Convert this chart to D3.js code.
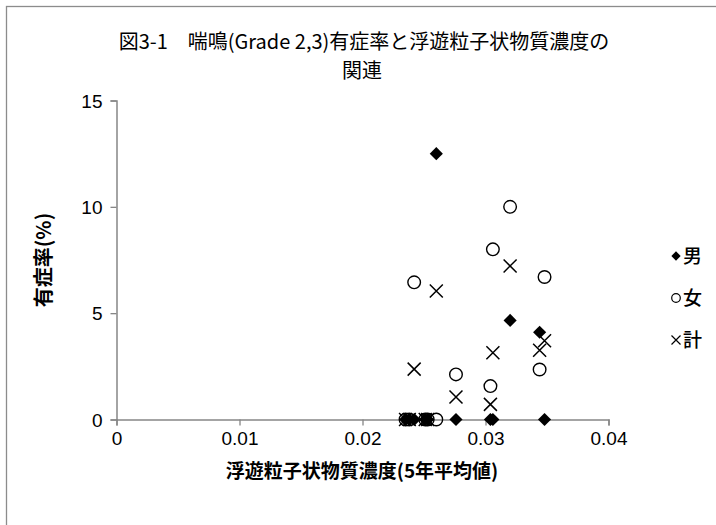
<!DOCTYPE html>
<html>
<head>
<meta charset="utf-8">
<script src="https://cdn.jsdelivr.net/npm/d3@7"></script>
<style>
  html, body { margin: 0; padding: 0; background: #fff; }
  svg { display: block; }
  text { font-family: "Liberation Sans", "Noto Sans CJK JP", sans-serif; }
  .cjk { font-family: "Noto Sans CJK JP", sans-serif; }
</style>
</head>
<body>
<div id="chart"></div>
<script>
// 5-year mean suspended particulate matter concentration at each survey site
const concentration = [0.0235, 0.0238, 0.0242, 0.0251, 0.0253, 0.0260, 0.0276, 0.0304, 0.0306, 0.0320, 0.0344, 0.0348];
// wheeze (Grade 2,3) prevalence, %
const male   = [0, 0, 0,    0, 0, 12.5, 0,    0,    0,    4.66, 4.10, 0];
const female = [0, 0, 6.45, 0, 0, 0,    2.12, 1.57, 8.00, 10.0, 2.35, 6.70];
const total  = [0, 0, 2.37, 0, 0, 6.04, 1.06, 0.71, 3.14, 7.22, 3.26, 3.70];

const seriesNames = ["男", "女", "計"];
const xTicks = [0, 0.01, 0.02, 0.03, 0.04];
const yTicks = [0, 5, 10, 15];

const W = 716, H = 525;
const svg = d3.select("#chart").append("svg").attr("width", W).attr("height", H);

// chart frame
svg.append("rect").attr("x", 6.5).attr("y", 6.5).attr("width", 740).attr("height", 560)
  .attr("fill", "#fff").attr("stroke", "#8c8c8c").attr("stroke-width", 1.3);

const x = d3.scaleLinear().domain([0, 0.04]).range([116.5, 608.5]);
const y = d3.scaleLinear().domain([0, 15]).range([419.5, 100.5]);

const axisColor = "#868686";

// y axis
const yAxis = svg.append("g").attr("transform", `translate(${x(0)},0)`)
  .call(d3.axisLeft(y).tickValues(yTicks).tickSize(6).tickPadding(8).tickFormat(d3.format("d")));
// x axis
const xAxis = svg.append("g").attr("transform", `translate(0,${y(0)})`)
  .call(d3.axisBottom(x).tickValues(xTicks).tickSize(6).tickPadding(6).tickFormat(d => d === 0 ? "0" : d3.format(".2f")(d)));

[xAxis, yAxis].forEach(g => {
  g.select(".domain").attr("stroke", axisColor).attr("stroke-width", 1.5);
  g.selectAll(".tick line").attr("stroke", axisColor).attr("stroke-width", 1.3);
  g.selectAll(".tick text").attr("fill", "#000").style("font-size", "19px")
    .style("font-family", "'Liberation Sans', sans-serif");
});
yAxis.selectAll(".tick text").attr("dy", "0.35em");

// markers
const diamond = d3.symbol().type(d3.symbolDiamond2).size(110);
const points = concentration.map((c, i) => ({ c, m: male[i], f: female[i], t: total[i] }));

const plot = svg.append("g");
plot.selectAll("path.male").data(points).join("path")
  .attr("class", "male")
  .attr("transform", d => `translate(${x(d.c)},${y(d.m)})`)
  .attr("d", diamond).attr("fill", "#000");

plot.selectAll("circle.female").data(points).join("circle")
  .attr("class", "female")
  .attr("cx", d => x(d.c)).attr("cy", d => y(d.f)).attr("r", 6.3)
  .attr("fill", "none").attr("stroke", "#000").attr("stroke-width", 1.4);

const cross = (s) => `M${-s},${-s}L${s},${s}M${-s},${s}L${s},${-s}`;
plot.selectAll("path.total").data(points).join("path")
  .attr("class", "total")
  .attr("transform", d => `translate(${x(d.c)},${y(d.t)})`)
  .attr("d", cross(6.5)).attr("fill", "none").attr("stroke", "#000").attr("stroke-width", 1.5);

// legend
const legend = svg.append("g").attr("transform", "translate(676,0)");
const legendY = [256, 298, 340];
legend.append("path").attr("transform", `translate(0,${legendY[0]})`)
  .attr("d", d3.symbol().type(d3.symbolDiamond2).size(55)).attr("fill", "#000");
legend.append("circle").attr("cx", 0).attr("cy", legendY[1]).attr("r", 4.3)
  .attr("fill", "none").attr("stroke", "#000").attr("stroke-width", 1.2);
legend.append("path").attr("transform", `translate(0,${legendY[2]})`)
  .attr("d", cross(4.5)).attr("fill", "none").attr("stroke", "#000").attr("stroke-width", 1.2);
legend.selectAll("text").data(seriesNames).join("text")
  .attr("class", "cjk")
  .attr("x", 7).attr("y", (d, i) => legendY[i]).attr("dy", "0.36em")
  .style("font-size", "19px").style("font-weight", "500").text(d => d);

// titles
svg.append("text").attr("class", "cjk").attr("x", 364).attr("y", 42).attr("dy", "0.36em")
  .attr("text-anchor", "middle").style("font-size", "20px")
  .text("図3-1　喘鳴(Grade 2,3)有症率と浮遊粒子状物質濃度の");
svg.append("text").attr("class", "cjk").attr("x", 362).attr("y", 71).attr("dy", "0.36em")
  .attr("text-anchor", "middle").style("font-size", "20px").text("関連");

svg.append("text").attr("class", "cjk").attr("x", 362).attr("y", 471).attr("dy", "0.36em")
  .attr("text-anchor", "middle").style("font-size", "19px").style("font-weight", "bold")
  .text("浮遊粒子状物質濃度(5年平均値)");

svg.append("text").attr("class", "cjk")
  .attr("transform", "translate(44,260) rotate(-90)").attr("dy", "0.36em")
  .attr("text-anchor", "middle").style("font-size", "20px").style("font-weight", "bold")
  .text("有症率(%)");
</script>
</body>
</html>
